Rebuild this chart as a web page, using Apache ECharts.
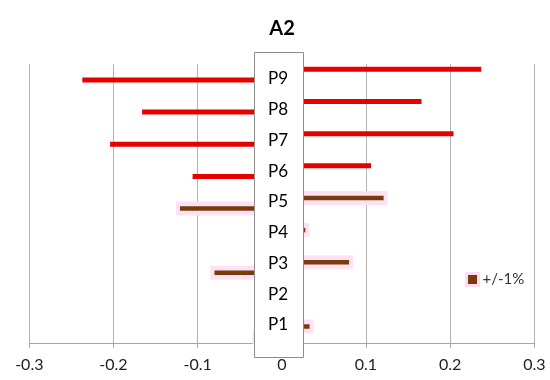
<!DOCTYPE html>
<html>
<head>
<meta charset="utf-8">
<script src="https://cdn.jsdelivr.net/npm/echarts@6/dist/echarts.min.js"></script>
<style>html,body{margin:0;padding:0;background:#fff;}#c{width:550px;height:380px;}</style>
</head>
<body>
<div id="c"></div>
<script>
// ---- data ----
var categories = ['P1', 'P2', 'P3', 'P4', 'P5', 'P6', 'P7', 'P8', 'P9'];
// brown series "+/-1%" (P1..P5)
var brownCats = ['P1', 'P2', 'P3', 'P4', 'P5'];
var brownPos = [0.033, 0, 0.080, 0.028, 0.121];
var brownNeg = [-0.030, 0, -0.080, -0.028, -0.121];
// red series (P6..P9)
var redCats = ['P6', 'P7', 'P8', 'P9'];
var redPos = [0.106, 0.204, 0.166, 0.237];
var redNeg = [-0.106, -0.204, -0.166, -0.237];
var xTicks = [-0.3, -0.2, -0.1, 0, 0.1, 0.2, 0.3];

var FONT = 'Lato';
function rows(cats, pos, neg) {
  return cats.map(function (c, i) { return [categories.indexOf(c) + 1, pos[i], neg[i]]; });
}
function makeRender(color, thick, glow) {
  return function (params, api) {
    var y = api.value(0), pos = api.value(1), neg = api.value(2);
    var off = 0.165;
    var p0 = api.coord([0, y + off]), p1 = api.coord([pos, y + off]);
    var n0 = api.coord([0, y - off]), n1 = api.coord([neg, y - off]);
    var ch = [];
    if (glow) {
      var gh = 14;
      if (pos !== 0) ch.push({type: 'rect', shape: {x: p0[0], y: p0[1] - gh / 2, width: p1[0] - p0[0] + 4, height: gh}, style: {fill: glow}});
      if (neg !== 0) ch.push({type: 'rect', shape: {x: n1[0] - 4, y: n0[1] - gh / 2, width: n0[0] - n1[0] + 4, height: gh}, style: {fill: glow}});
    }
    if (pos !== 0) ch.push({type: 'rect', shape: {x: p0[0], y: p0[1] - thick / 2, width: p1[0] - p0[0], height: thick}, style: {fill: color}});
    if (neg !== 0) ch.push({type: 'rect', shape: {x: n1[0], y: n0[1] - thick / 2, width: n0[0] - n1[0], height: thick}, style: {fill: color}});
    return {type: 'group', children: ch};
  };
}

var chart = echarts.init(document.getElementById('c'), null, {renderer: 'canvas'});
chart.setOption({
  animation: false,
  backgroundColor: '#fff',
  title: {
    text: 'A2', left: 277, top: 14, textAlign: 'center',
    textStyle: {fontFamily: FONT, fontSize: 20, fontWeight: 'bold', color: '#000'}
  },
  legend: {
    data: ['+/-1%'], left: 465, top: 272, padding: 0, icon: 'rect', itemWidth: 12, itemHeight: 12,
    itemStyle: {color: '#7a3b0c', borderColor: '#fcdcf2', borderWidth: 3},
    textStyle: {fontFamily: FONT, fontSize: 15, color: '#333', padding: [0, 0, 0, -1]}
  },
  grid: [
    {left: 29.3, right: 15.7, top: 64, bottom: 37},
    {left: 278, width: 10, top: 63.6, height: 276.75}
  ],
  xAxis: [
    {
      type: 'value', gridIndex: 0, min: xTicks[0], max: xTicks[xTicks.length - 1], interval: 0.1, z: 0,
      axisLine: {show: true, lineStyle: {color: '#a6a6a6', width: 1}},
      axisTick: {show: true, length: 5, lineStyle: {color: '#a6a6a6'}},
      splitLine: {show: true, lineStyle: {color: '#b3b3b3', width: 1}},
      axisLabel: {margin: 14, fontFamily: FONT, fontSize: 16, color: '#222',
        formatter: function (v) { return String(Math.round(v * 10) / 10); }}
    },
    {type: 'value', gridIndex: 1, show: false}
  ],
  yAxis: [
    {type: 'value', gridIndex: 0, min: 0.652, max: 9.332, show: false},
    {
      type: 'category', gridIndex: 1, data: categories, position: 'left', z: 10,
      axisLine: {show: false}, axisTick: {show: false}, splitLine: {show: false},
      axisLabel: {margin: 0, align: 'center', fontFamily: FONT, fontSize: 17, color: '#000'}
    }
  ],
  graphic: [{
    type: 'rect', z: 5, zlevel: 0,
    shape: {x: 254.5, y: 52.5, width: 49, height: 305},
    style: {fill: '#fff', stroke: '#8c8c8c', lineWidth: 1}
  }],
  series: [
    {
      name: 'red', type: 'custom', xAxisIndex: 0, yAxisIndex: 0, z: 2,
      renderItem: makeRender('#e60000', 5, null),
      data: rows(redCats, redPos, redNeg)
    },
    {
      name: '+/-1%', type: 'custom', xAxisIndex: 0, yAxisIndex: 0, z: 2,
      itemStyle: {color: '#7a3b0c'},
      renderItem: makeRender('#7a3b0c', 4.5, '#fde2f5'),
      data: rows(brownCats, brownPos, brownNeg)
    }
  ]
});
</script>
</body>
</html>
